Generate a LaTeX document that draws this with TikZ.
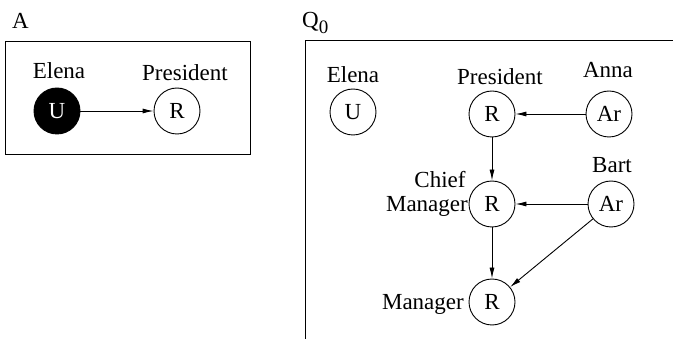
\documentclass[tikz,border=0pt]{standalone}
\usepackage{fontspec}
\setmainfont{Liberation Serif}
\usetikzlibrary{arrows.meta}
\begin{document}
\begin{tikzpicture}[x=1pt,y=-1pt,
  every node/.style={font=\fontsize{23}{27}\selectfont, inner sep=0pt},
  ent/.style={circle, draw, line width=0.9pt, minimum size=46pt},
  entfill/.style={ent, fill=black, text=white},
  lbl/.style={anchor=base},
  arr/.style={line width=0.9pt, -{Latex[length=11pt,width=5pt]}},
  frame/.style={line width=0.9pt}]
\useasboundingbox (0,0) rectangle (673,339);

% left panel
\node[anchor=base west] (tA) at (12,29) {A};
\draw[frame] (5,41) rectangle (250,154);
\node[entfill] (aU) at (57,111) {U};
\node[ent] (aR) at (177,111) {R};
\node[lbl] (laU) at (59,79) {Elena};
\node[lbl] (laR) at (185,81) {President};
\draw[arr] (aU) -- (aR);

% right panel
\node[anchor=base west] (tQ) at (302,28) {Q\raisebox{-6pt}{\fontsize{19}{20}\selectfont 0}};
\draw[frame] (305,339) -- (305,40) -- (673,40);

\node[ent] (qU) at (353,112) {U};
\node[ent] (qP) at (492,114) {R};
\node[ent] (qA) at (609,114) {Ar};
\node[ent] (qC) at (492,204) {R};
\node[ent] (qB) at (611,204) {Ar};
\node[ent] (qM) at (492,302) {R};

\node[lbl] (lqU) at (353,83) {Elena};
\node[lbl] (lqP) at (500,85) {President};
\node[lbl] (lqA) at (608,78) {Anna};
\node[lbl] (lqB) at (612,173) {Bart};
\node[anchor=base] (lqC1) at (440,188) {Chief};
\node[anchor=base east] (lqC2) at (468,212) {Manager};
\node[anchor=base east] (lqM) at (464,310) {Manager};

\draw[arr] (qA) -- (qP);
\draw[arr] (qP) -- (qC);
\draw[arr] (qB) -- (qC);
\draw[arr] (qC) -- (qM);
\draw[arr] (qB) -- (qM);
\end{tikzpicture}
\end{document}
